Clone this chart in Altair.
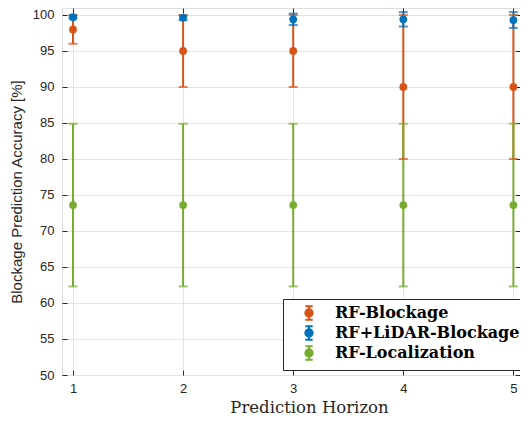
import altair as alt
import pandas as pd

horizons = [1, 2, 3, 4, 5]
series_names = ["RF-Blockage", "RF+LiDAR-Blockage", "RF-Localization"]
rf_blockage_mean = [98.0, 95.0, 95.0, 90.0, 90.0]
rf_blockage_err = [2.0, 5.0, 5.0, 10.0, 10.0]
lidar_mean = [99.7, 99.6, 99.4, 99.4, 99.3]
lidar_err = [0.2, 0.3, 0.8, 1.0, 1.1]
loc_mean = [73.6, 73.6, 73.6, 73.6, 73.6]
loc_err = [11.3, 11.3, 11.3, 11.3, 11.3]
y_ticks = [50, 55, 60, 65, 70, 75, 80, 85, 90, 95, 100]
colors = ["#D95319", "#0072BD", "#77AC30"]

rows = []
for name, means, errs in zip(series_names,
                             [rf_blockage_mean, lidar_mean, loc_mean],
                             [rf_blockage_err, lidar_err, loc_err]):
    for h, m, e in zip(horizons, means, errs):
        rows.append({"series": name, "horizon": h, "mean": m,
                     "lo": m - e, "hi": m + e})
df = pd.DataFrame(rows)

W, H = 458, 367
xscale = alt.Scale(domain=[0.9, 5.06], nice=False, zero=False)
yscale = alt.Scale(domain=[50, 100.97], nice=False, zero=False)
cscale = alt.Scale(domain=series_names, range=colors)

sans = "Liberation Sans"
serif = "DejaVu Serif"
ink = "#262626"

x_axis = alt.Axis(values=horizons, format="d", title="Prediction Horizon",
                  titleFont=serif, titleFontWeight="normal", titleFontSize=16.5,
                  titleColor=ink, titlePadding=4, titleX=247,
                  labelFont=sans, labelFontSize=13, labelColor=ink,
                  labelPadding=7, tickSize=5, offset=-5, tickColor=ink,
                  domain=False, gridColor="#e3e3e3", grid=True)
y_axis = alt.Axis(values=y_ticks, title="Blockage Prediction Accuracy [%]",
                  titleFont=sans, titleFontWeight="normal", titleFontSize=15,
                  titleColor=ink, titlePadding=8,
                  labelFont=sans, labelFontSize=13, labelColor=ink,
                  labelPadding=8, tickSize=5, offset=-5, tickColor=ink,
                  domain=False, labelOverlap=False,
                  gridColor="#e3e3e3", grid=True)
x_axis_top = alt.Axis(values=horizons, orient="top", labels=False, title=None,
                      tickSize=5, offset=-5, tickColor=ink, domain=False, grid=False)
y_axis_right = alt.Axis(values=y_ticks, orient="right", labels=False, title=None,
                        tickSize=5, offset=-5, tickColor=ink, domain=False, grid=False)

symbol = ("M-0.55,-1H0.55M0,-1V1M-0.55,1H0.55"
          "M0.55,0A0.55,0.55 0 1,1 -0.55,0A0.55,0.55 0 1,1 0.55,0Z")
legend = alt.Legend(orient="none", legendX=221, legendY=291,
                    symbolType=symbol, symbolSize=180, symbolOpacity=1,
                    symbolStrokeWidth=2, symbolOffset=12,
                    labelFont=serif, labelFontWeight="bold",
                    labelFontSize=16, labelColor="#000000",
                    labelOffset=18, rowPadding=-2,
                    padding=6, strokeColor=ink,
                    fillColor="white", cornerRadius=0,
                    labelLimit=400, offset=0)

color_enc = alt.Color("series:N", scale=cscale, title=None, legend=legend)

base = alt.Chart(df)

rules = base.mark_rule(strokeWidth=2).encode(
    x=alt.X("horizon:Q", scale=xscale, axis=x_axis),
    y=alt.Y("lo:Q", scale=yscale, axis=y_axis),
    y2="hi:Q", color=color_enc)
caps_lo = base.mark_tick(thickness=2, size=9, orient="horizontal").encode(
    x=alt.X("horizon:Q", scale=xscale, axis=None),
    y=alt.Y("lo:Q", scale=yscale, axis=None), color=color_enc)
caps_hi = base.mark_tick(thickness=2, size=9, orient="horizontal").encode(
    x=alt.X("horizon:Q", scale=xscale, axis=None),
    y=alt.Y("hi:Q", scale=yscale, axis=None), color=color_enc)
points = base.mark_point(filled=True, size=60, opacity=1).encode(
    x=alt.X("horizon:Q", scale=xscale, axis=x_axis_top),
    y=alt.Y("mean:Q", scale=yscale, axis=y_axis_right), color=color_enc)

chart = alt.layer(rules, caps_lo, caps_hi, points).resolve_axis(
    x="independent", y="independent"
).properties(
    width=W, height=H,
    autosize=alt.AutoSizeParams(type="none"),
    padding={"left": 54, "top": 0, "right": 0, "bottom": 44},
).configure_view(stroke=ink, strokeWidth=1).configure(background="white")

chart.save("out.html", embed_options={"renderer": "svg", "actions": False})
